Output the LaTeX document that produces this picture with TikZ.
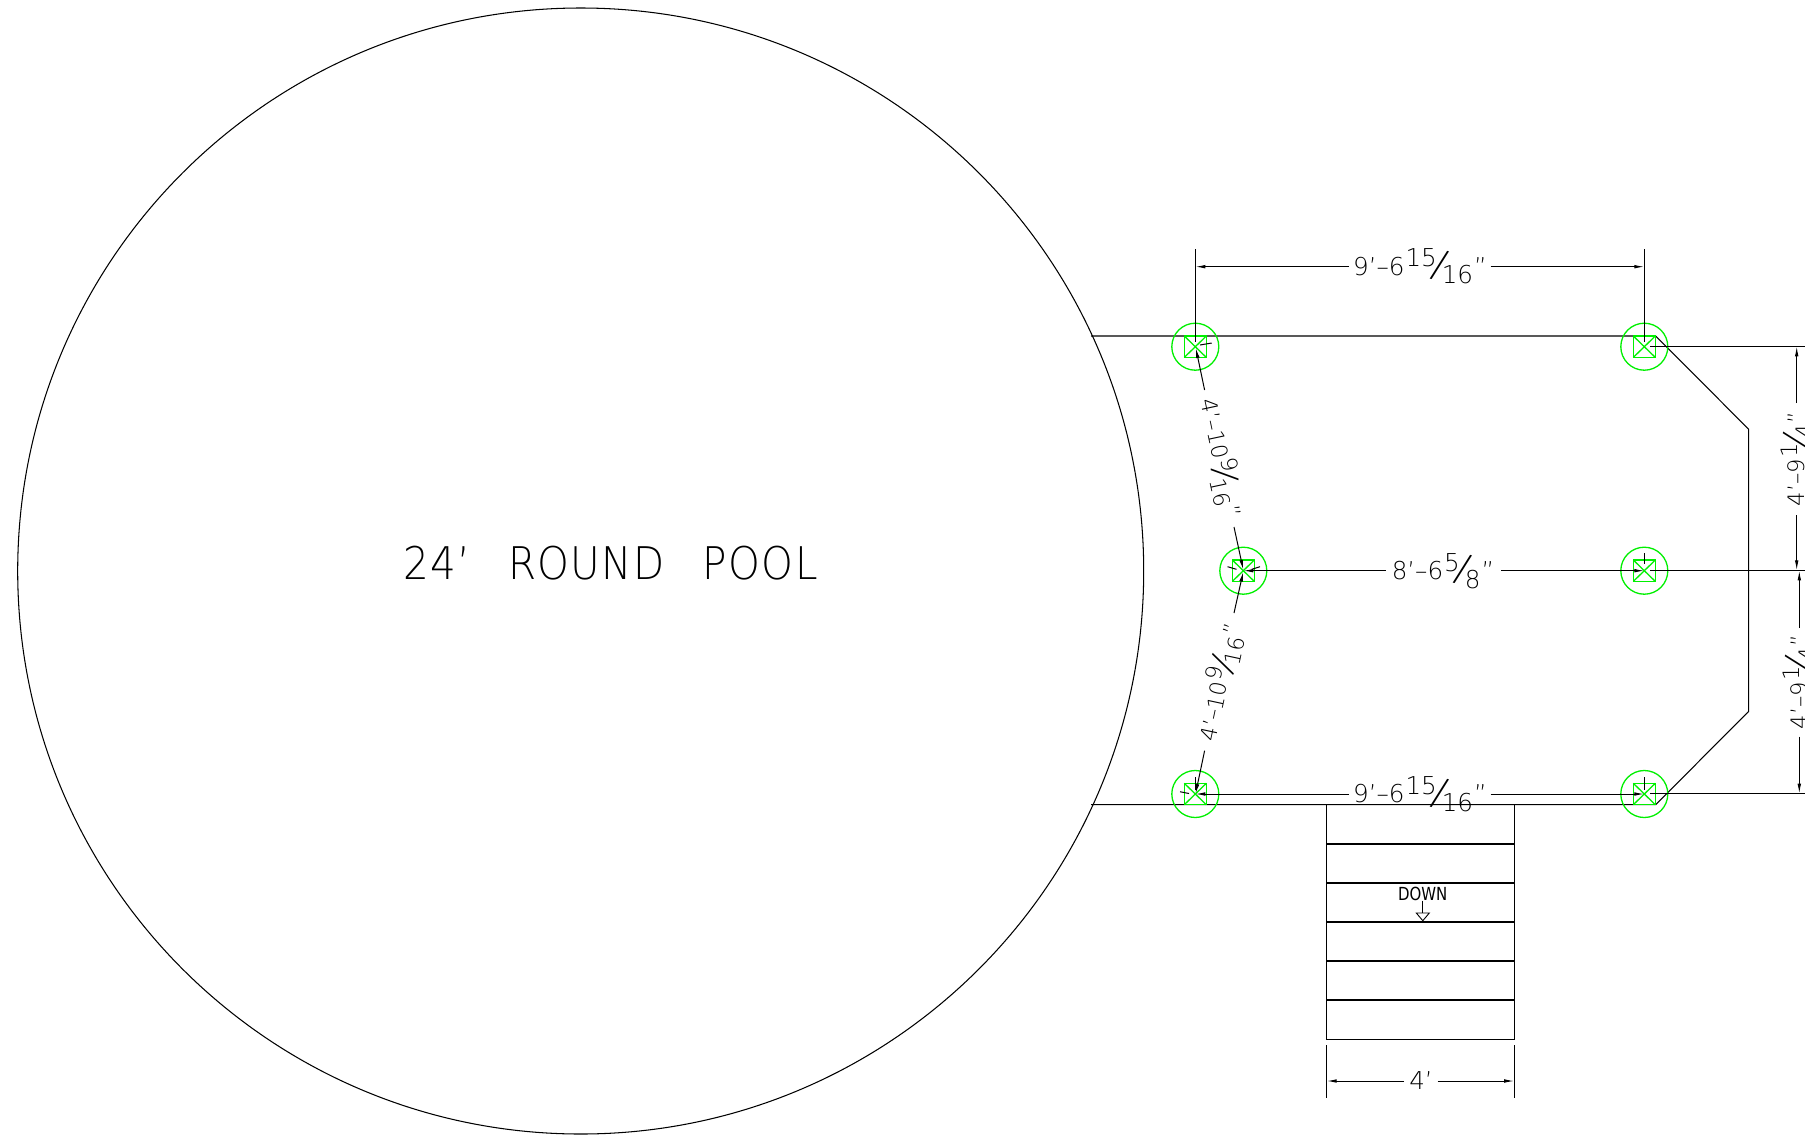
\documentclass[tikz,border=0pt]{standalone}
\usepackage{fontspec}
\usepackage{graphicx}
\usetikzlibrary{arrows.meta}
\newfontfamily\cadfont{DejaVu Sans ExtraLight}
\newfontfamily\poolfont[FakeStretch=0.9,LetterSpace=3]{DejaVu Sans ExtraLight}
\newfontfamily\downfont[FakeStretch=0.83]{DejaVu Sans}
\definecolor{postgreen}{HTML}{00F000}
\newcommand{\dimfont}{\fontsize{24.6}{24.6}\selectfont\cadfont}
\newcommand{\fr}[2]{\kern1pt\raisebox{8.5pt}{#1}\kern2.5pt\makebox[0pt]{\raisebox{-2.5pt}{\rotatebox[origin=c]{-15}{\scalebox{1.55}{/}}}}\kern2.5pt\raisebox{-8.5pt}{#2}\kern1pt}
\tikzset{
  line/.style={black,line width=1.05pt},
  dim/.style={black,line width=1.0pt,-{Latex[length=10pt,width=3.6pt]}},
  ext/.style={black,line width=1.0pt},
  dimtext/.style={inner sep=0pt,font=\dimfont},
  post/.style={postgreen,line width=1.3pt}
}
\begin{document}
\begin{tikzpicture}[x=1pt,y=-1pt]
\useasboundingbox (0,0) rectangle (1805,1136);
\clip (0,0) rectangle (1805,1136);
\fill[white] (0,0) rectangle (1805,1136);
% named points
\coordinate (pa) at (1195.3,346.7);
\coordinate (pb) at (1644.3,346.7);
\coordinate (pc) at (1243.3,570.7);
\coordinate (pd) at (1644.3,570.7);
\coordinate (pe) at (1195.3,794);
\coordinate (pf) at (1644.3,794);
% pool
\draw[line] (580.7,571) circle[radius=563];
\node[inner sep=0pt,anchor=base west,font={\fontsize{45}{45}\selectfont\poolfont}] (pool) at (403,579) {\spaceskip=38pt 24’ ROUND POOL};
% deck
\coordinate (dtl) at (1091,336);
\coordinate (dtr) at (1655.7,336);
\coordinate (dr1) at (1748.7,429.3);
\coordinate (dr2) at (1748.7,711.3);
\coordinate (dbr) at (1655.7,804.7);
\coordinate (dbl) at (1091,804.7);
\draw[line,line join=miter] (dtl) -- (dtr) -- (dr1) -- (dr2) -- (dbr) -- (dbl);
% stairs
\coordinate (st1) at (1326.7,804.7);
\coordinate (st2) at (1514.2,804.7);
\coordinate (st3) at (1514.2,1039.3);
\coordinate (st4) at (1326.7,1039.3);
\draw[line] (st1) -- (st4) -- (st3) -- (st2);
\foreach \yy in {844,883,922,961,1000}{\draw[line] (1326.7,\yy) -- (1514.2,\yy);}
% stairs label
\node[inner sep=0pt,anchor=base,font={\fontsize{18}{18}\selectfont\downfont}] (down) at (1422.8,900) {DOWN};
\coordinate (dn1) at (1422.8,900.7);
\coordinate (dn2) at (1422.8,913);
\draw[line,line width=.9pt] (dn1) -- (dn2);
\draw[line,line width=.9pt] (1416.3,913) -- (1429.3,913) -- (1422.8,920.7) -- cycle;
% posts
\foreach \p in {pa,pb,pc,pd,pe,pf}{
  \draw[post] (\p) circle[radius=23.5];
  \draw[post] ([shift={(-11,-10.7)}]\p) rectangle ([shift={(11,10.7)}]\p);
  \draw[post] ([shift={(-11,-10.7)}]\p) -- ([shift={(11,10.7)}]\p);
  \draw[post] ([shift={(-11,10.7)}]\p) -- ([shift={(11,-10.7)}]\p);
}
% top dimension
\draw[ext] (1195.3,249) -- (1195.3,342);
\draw[ext] (1644.3,249) -- (1644.3,342);
\coordinate (t0) at (1195.3,266.7);
\coordinate (t1) at (1644.3,266.7);
\coordinate (ta) at (1349,266.7);
\coordinate (tb) at (1490.5,266.7);
\draw[dim] (ta) -- (t0);
\draw[dim] (tb) -- (t1);
\node[dimtext] (toptxt) at (1420,266.7) {9’–6\fr{15}{16}”};
% bottom dimension
\coordinate (b0) at (1195.3,794);
\coordinate (b1) at (1644.3,794);
\coordinate (ba) at (1349,794);
\coordinate (bb) at (1490.5,794);
\draw[dim] (ba) -- (b0);
\draw[dim] (bb) -- (b1);
\node[dimtext] (bottxt) at (1420,794) {9’–6\fr{15}{16}”};
\draw[ext] (1195.3,777) -- (1195.3,790);
\draw[ext] (1644.3,777) -- (1644.3,790);
% middle dimension
\coordinate (ma) at (1385.6,570.7);
\coordinate (mb) at (1501,570.7);
\draw[dim] (ma) -- (pc);
\draw[dim] (mb) -- (pd);
\node[dimtext] (midtxt) at (1443,570.7) {8’–6\fr{5}{8}”};
\draw[ext] (1644.3,553) -- (1644.3,564);
% diagonal dimensions
\coordinate (da1) at (1204.6,390);
\coordinate (da2) at (1195.8,348);
\coordinate (da3) at (1234,527);
\coordinate (da4) at (1243.3,570);
\draw[dim] (da1) -- (da2);
\draw[dim] (da3) -- (da4);
\node[dimtext,rotate=-77.9,scale=.9] (diagup) at (1221,458) {4’–10\fr{9}{16}”};
\coordinate (db1) at (1234,613);
\coordinate (db2) at (1243.3,571.5);
\coordinate (db3) at (1204.6,750.7);
\coordinate (db4) at (1195.5,794);
\draw[dim] (db1) -- (db2);
\draw[dim] (db3) -- (db4);
\node[dimtext,rotate=77.9,scale=.9] (diaglo) at (1220,682) {4’–10\fr{9}{16}”};
\draw[ext] (1200,345) -- (1211.7,343);
\draw[ext] (1227.6,566.7) -- (1236.4,569.3);
\draw[ext] (1251.7,569.3) -- (1260,566.7);
\draw[ext] (1180,791.7) -- (1189,793.5);
% right dimensions
\draw[ext] (1650,346.3) -- (1805,346.3);
\draw[ext,line width=1.6pt] (1650,570.4) -- (1805,570.4);
\draw[ext] (1650,793.7) -- (1805,793.7);
\coordinate (r1) at (1796.7,346.3);
\coordinate (r1a) at (1796.7,403);
\coordinate (r2) at (1796.7,570.4);
\coordinate (r2a) at (1796.7,515);
\coordinate (r3) at (1799.3,570.4);
\coordinate (r3a) at (1799.3,628);
\coordinate (r4) at (1799.3,793.7);
\coordinate (r4a) at (1799.3,736.7);
\draw[dim] (r1a) -- (r1);
\draw[dim] (r2a) -- (r2);
\draw[dim] (r3a) -- (r3);
\draw[dim] (r4a) -- (r4);
\node[dimtext,rotate=90,scale=.92] (rtxt1) at (1796.7,459) {4’–9\fr{1}{4}”};
\node[dimtext,rotate=90,scale=.92] (rtxt2) at (1799.3,682) {4’–9\fr{1}{4}”};
% stair width
\draw[ext] (1326.7,1045) -- (1326.7,1098);
\draw[ext] (1514.2,1045) -- (1514.2,1098);
\coordinate (w0) at (1326.7,1081);
\coordinate (w1) at (1514.2,1081);
\coordinate (wa) at (1404,1081);
\coordinate (wb) at (1437.7,1081);
\draw[dim] (wa) -- (w0);
\draw[dim] (wb) -- (w1);
\node[dimtext] (wtxt) at (1421,1081) {4’};
\end{tikzpicture}
\end{document}
